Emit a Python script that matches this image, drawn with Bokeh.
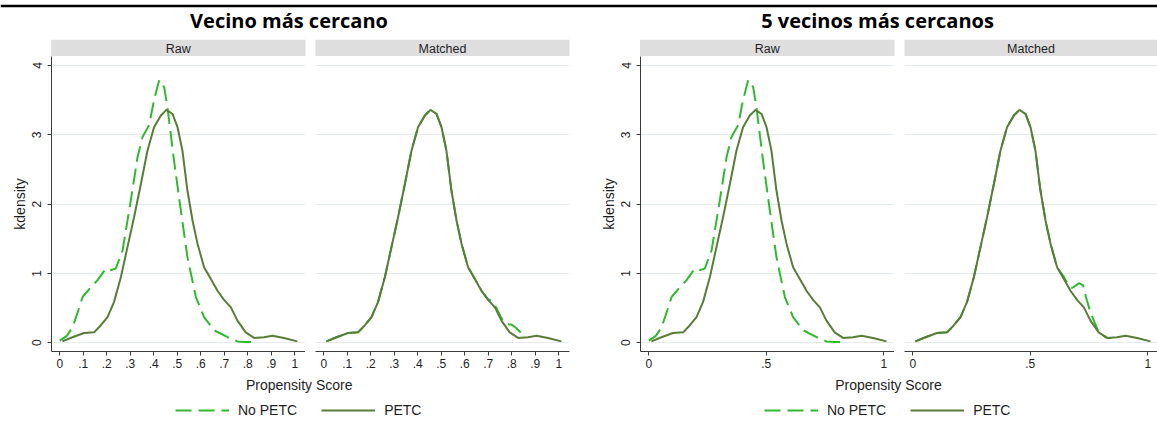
from bokeh.plotting import figure
from bokeh.models import Range1d, FixedTicker, Label, BoxAnnotation, Legend, LegendItem
from bokeh.layouts import column, row
from bokeh.embed import file_html
from bokeh.resources import INLINE

# ---------------- data ----------------
chart_titles = ["Vecino más cercano", "5 vecinos más cercanos"]
panel_titles = ["Raw", "Matched"]
series_names = ["No PETC", "PETC"]
x_title = "Propensity Score"
y_title = "kdensity"

ticks_a = [0.0, 0.1, 0.2, 0.3, 0.4, 0.5, 0.6, 0.7, 0.8, 0.9, 1.0]
labels_a = ["0", ".1", ".2", ".3", ".4", ".5", ".6", ".7", ".8", ".9", "1"]
ticks_b = [0.0, 0.5, 1.0]
labels_b = ["0", ".5", "1"]
y_ticks = [0, 1, 2, 3, 4]

# PETC (treated) density - same in raw and matched panels
petc_x = [0.011, 0.054, 0.103, 0.146, 0.174, 0.203, 0.231, 0.26, 0.288, 0.316, 0.345,
          0.373, 0.401, 0.43, 0.454, 0.48, 0.501, 0.522, 0.543, 0.565, 0.586, 0.614,
          0.643, 0.671, 0.699, 0.728, 0.756, 0.791, 0.827, 0.869, 0.905, 0.954, 1.011]
petc_y = [0.02, 0.08, 0.14, 0.15, 0.25, 0.37, 0.59, 0.95, 1.38, 1.81, 2.29,
          2.77, 3.11, 3.28, 3.36, 3.30, 3.11, 2.77, 2.20, 1.76, 1.43, 1.09,
          0.92, 0.75, 0.62, 0.51, 0.32, 0.15, 0.07, 0.08, 0.10, 0.07, 0.02]

# No PETC, raw sample
nopetc_raw_x = [0.0, 0.03, 0.054, 0.08, 0.097, 0.132, 0.16, 0.196, 0.218, 0.238, 0.267,
                0.302, 0.331, 0.352, 0.38, 0.401, 0.423, 0.444, 0.458, 0.486, 0.515,
                0.543, 0.579, 0.614, 0.657, 0.714, 0.756, 0.79, 0.827]
nopetc_raw_y = [0.03, 0.10, 0.22, 0.48, 0.66, 0.80, 0.90, 1.07, 1.05, 1.07, 1.33,
                2.05, 2.68, 2.97, 3.14, 3.50, 3.79, 3.69, 3.40, 2.63, 1.91,
                1.24, 0.66, 0.37, 0.18, 0.08, 0.02, 0.01, 0.01]

# No PETC, matched sample (nearest neighbour)
nopetc_nn_x = [0.011, 0.054, 0.103, 0.146, 0.174, 0.203, 0.231, 0.26, 0.288, 0.316, 0.345,
               0.373, 0.401, 0.43, 0.454, 0.48, 0.501, 0.522, 0.543, 0.565, 0.586, 0.614,
               0.643, 0.671, 0.699, 0.715, 0.735, 0.755, 0.775, 0.80, 0.82, 0.845]
nopetc_nn_y = [0.02, 0.08, 0.14, 0.15, 0.25, 0.37, 0.59, 0.95, 1.38, 1.81, 2.29,
               2.77, 3.11, 3.28, 3.36, 3.30, 3.11, 2.77, 2.20, 1.76, 1.43, 1.09,
               0.92, 0.75, 0.63, 0.60, 0.50, 0.36, 0.27, 0.26, 0.21, 0.12]

# No PETC, matched sample (5 nearest neighbours)
nopetc_k5_x = [0.011, 0.054, 0.103, 0.146, 0.174, 0.203, 0.231, 0.26, 0.288, 0.316, 0.345,
               0.373, 0.401, 0.43, 0.454, 0.48, 0.501, 0.522, 0.543, 0.565, 0.586, 0.614,
               0.643, 0.66, 0.678, 0.692, 0.706, 0.724, 0.741, 0.758, 0.78, 0.791, 0.827, 0.845]
nopetc_k5_y = [0.02, 0.08, 0.14, 0.15, 0.25, 0.37, 0.59, 0.95, 1.38, 1.81, 2.29,
               2.77, 3.11, 3.28, 3.36, 3.30, 3.11, 2.77, 2.20, 1.76, 1.43, 1.09,
               0.95, 0.84, 0.79, 0.82, 0.86, 0.83, 0.61, 0.42, 0.24, 0.15, 0.07, 0.07]

# ---------------- style ----------------
GREEN = "#2dbb2d"
OLIVE = "#587d37"
GRID = "#e4ecef"
AXIS = "#3a3a3a"
TXT = "#1e1e1e"
FONT = "Liberation Sans"
DASH = "16 7"

FRAME_H = 295
PX_PER_X = 235.0
X0 = -0.0353
Y_RANGE = (-0.126, 4.13)
W_TOTAL = 1157


def panel(series, ticks, labels, frame_w, left, right, with_y):
    p = figure(frame_width=frame_w, frame_height=FRAME_H,
               x_range=Range1d(X0, X0 + frame_w / PX_PER_X), y_range=Range1d(*Y_RANGE),
               output_backend="svg", toolbar_location=None,
               min_border_left=left, min_border_right=right, min_border_top=0, min_border_bottom=23,
               y_axis_location="left" if with_y else None,
               outline_line_color=None, background_fill_color="white", border_fill_color="white")
    p.xgrid.visible = False
    p.ygrid.ticker = FixedTicker(ticks=y_ticks)
    p.ygrid.grid_line_color = GRID
    p.ygrid.grid_line_width = 1

    xa = p.xaxis[0]
    xa.ticker = FixedTicker(ticks=ticks)
    xa.major_label_overrides = {t: l for t, l in zip(ticks, labels)}
    xa.major_tick_out = 4
    xa.major_tick_in = 0
    xa.minor_tick_out = 0
    xa.minor_tick_in = 0
    xa.axis_line_color = AXIS
    xa.major_tick_line_color = AXIS
    xa.major_label_text_font = FONT
    xa.major_label_text_font_size = "12px"
    xa.major_label_text_color = TXT
    xa.major_label_standoff = 3

    if with_y:
        ya = p.yaxis[0]
        ya.ticker = FixedTicker(ticks=y_ticks)
        ya.major_tick_out = 4
        ya.major_tick_in = 0
        ya.minor_tick_out = 0
        ya.minor_tick_in = 0
        ya.axis_line_color = AXIS
        ya.major_tick_line_color = AXIS
        ya.major_label_orientation = "vertical"
        ya.major_label_text_font = FONT
        ya.major_label_text_font_size = "12px"
        ya.major_label_text_color = TXT
        ya.major_label_standoff = 6
        ya.axis_label = y_title
        ya.axis_label_text_font = FONT
        ya.axis_label_text_font_size = "14px"
        ya.axis_label_text_font_style = "normal"
        ya.axis_label_text_color = TXT
        ya.axis_label_standoff = 2

    (nx, ny), (tx, ty) = series
    p.line(nx, ny, line_color=GREEN, line_width=2, line_dash=DASH)
    p.line(tx, ty, line_color=OLIVE, line_width=2)
    return p


# ---------------- header: rule, chart titles, strips ----------------
HEAD_H = 56
header = figure(width=W_TOTAL, height=HEAD_H, x_range=Range1d(0, W_TOTAL), y_range=Range1d(HEAD_H, 0),
                output_backend="svg", toolbar_location=None, x_axis_location=None, y_axis_location=None,
                min_border=0, outline_line_color=None, background_fill_color="white",
                border_fill_color="white")
header.grid.visible = False
header.add_layout(BoxAnnotation(left=0, right=W_TOTAL, top=4.3, bottom=6.8, fill_color="black",
                                fill_alpha=1, line_color=None, level="underlay"))
title_cx = [288.5, 877.0]
for t, cx in zip(chart_titles, title_cx):
    header.add_layout(Label(x=cx, y=19.5, text=t, text_align="center", text_baseline="middle",
                            text_font="Open Sans", text_font_style="bold", text_font_size="20px",
                            text_color="black"))
strip_spans = [(50.7, 305.0), (315.0, 569.0), (639.5, 894.0), (904.0, 1157.0)]
for i, (l, r) in enumerate(strip_spans):
    header.add_layout(BoxAnnotation(left=l, right=r, top=39.3, bottom=56, fill_color="#dedede",
                                    fill_alpha=1, line_color=None, level="underlay"))
    header.add_layout(Label(x=(l + r) / 2, y=48.2, text=panel_titles[i % 2], text_align="center",
                            text_baseline="middle", text_font=FONT, text_font_size="12.5px",
                            text_color=TXT))

# ---------------- panels ----------------
a_raw = panel(((nopetc_raw_x, nopetc_raw_y), (petc_x, petc_y)), ticks_a, labels_a, 254, 51, 0, True)
a_match = panel(((nopetc_nn_x, nopetc_nn_y), (petc_x, petc_y)), ticks_a, labels_a, 254, 10, 7, False)
b_raw = panel(((nopetc_raw_x, nopetc_raw_y), (petc_x, petc_y)), ticks_b, labels_b, 254, 64, 0, True)
b_match = panel(((nopetc_k5_x, nopetc_k5_y), (petc_x, petc_y)), ticks_b, labels_b, 253, 10, 0, False)


# ---------------- bottom: x title + legend ----------------
def bottom(width, cx, lx):
    h = 69
    p = figure(width=width, height=h, x_range=Range1d(0, width), y_range=Range1d(h, 0),
               output_backend="svg", toolbar_location=None, x_axis_location=None, y_axis_location=None,
               min_border=0, outline_line_color=None, background_fill_color="white",
               border_fill_color="white")
    p.grid.visible = False
    p.add_layout(Label(x=cx, y=10.3, text=x_title, text_align="center", text_baseline="middle",
                       text_font=FONT, text_font_size="14px", text_color=TXT))
    # legend renderers: the series themselves, drawn on an off-canvas range (legend keys only)
    p.extra_x_ranges = {"key": Range1d(10, 11)}
    p.extra_y_ranges = {"key": Range1d(10, 11)}
    r1 = p.line(nopetc_raw_x, nopetc_raw_y, line_color=GREEN, line_width=2, line_dash=DASH,
                x_range_name="key", y_range_name="key")
    r2 = p.line(petc_x, petc_y, line_color=OLIVE, line_width=2,
                x_range_name="key", y_range_name="key")
    leg = Legend(items=[LegendItem(label=series_names[0], renderers=[r1]),
                        LegendItem(label=series_names[1], renderers=[r2])],
                 orientation="horizontal", location=(lx, 25), padding=0, margin=0,
                 spacing=24, glyph_width=54, glyph_height=16, label_height=16,
                 label_standoff=9, label_text_font=FONT, label_text_font_size="14px",
                 label_text_color=TXT, border_line_color=None, background_fill_alpha=0)
    p.add_layout(leg, "center")
    return p


a_bot = bottom(597, 298.7, 175)
b_bot = bottom(560, 291.0, 167)

layout = column(header, row(a_raw, a_match, b_raw, b_match), row(a_bot, b_bot))

open("out.html", "w").write(file_html(layout, INLINE))
